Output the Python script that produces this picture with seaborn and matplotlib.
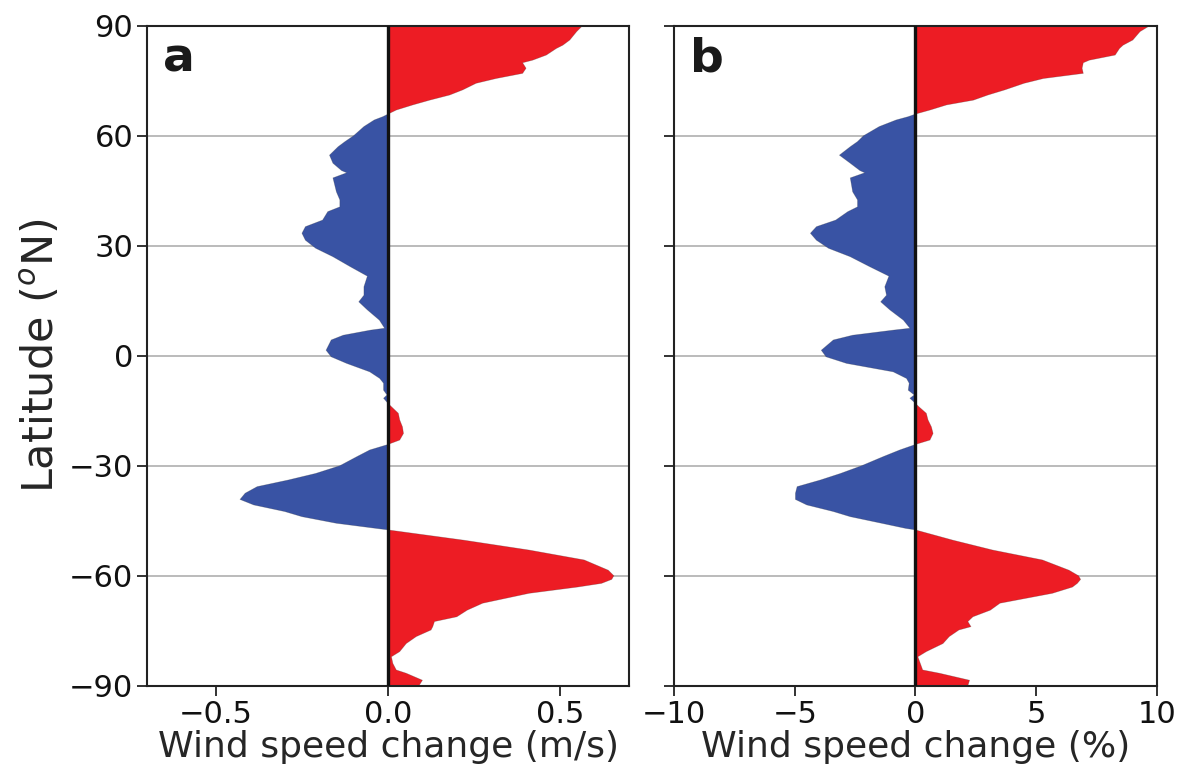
import numpy as np
import pandas as pd
import matplotlib
matplotlib.use("Agg")
import matplotlib.pyplot as plt
import seaborn as sns

# ---- data ----
latitude = [90, 88.4, 86.1, 84.7, 83.8, 82, 80.6, 79.9, 78.4, 77, 75.6, 74.3, 72.5, 71.1, 69.7,
            68.4, 67, 65.9,
            65.2, 64.3, 62.5, 60, 58.4, 57, 54.7, 52.5, 50.5, 49.9, 48.5, 44.7, 42.5, 40.6,
            39.3, 37, 35.2, 33.4, 31.5, 29.3, 27, 24.3, 21.7, 18.8, 16.5, 14.7, 12.5, 9.7,
            7.5, 7, 5.6, 4.3, 1.5, -0.3, -2.1, -4.4, -6.2, -7.5, -9.4, -10.7, -11.6, -13,
            -13.9, -15.7, -17.5, -19.4, -21.2, -23, -24.2, -25.7, -27.5, -30, -32.1, -33.9,
            -35.7, -37.5, -39.2, -40.7, -42.5, -43.9, -45.7, -47.1, -47.5, -50.3, -53, -55.7,
            -58.5, -60, -61, -62.1, -63.1, -64.8, -67.5, -69.4, -71.2, -72.5, -73.9, -74.8,
            -76.6, -78.5, -80.7, -82.1, -83.9, -85.7, -86.6, -88.5, -90]

change_ms = [0.565, 0.548, 0.528, 0.508, 0.489, 0.46, 0.42, 0.391, 0.401, 0.391, 0.314, 0.256,
             0.217, 0.179, 0.121, 0.072, 0.024, 0.0,
             -0.015, -0.04, -0.07, -0.10, -0.125, -0.145, -0.17, -0.16, -0.135,
             -0.12, -0.16, -0.15, -0.14, -0.14, -0.175, -0.19, -0.24, -0.25, -0.24, -0.21,
             -0.16, -0.11, -0.06, -0.07, -0.07, -0.085, -0.06, -0.025, -0.01, -0.05, -0.13,
             -0.165, -0.18, -0.165, -0.12, -0.053, -0.024, -0.013, -0.013, -0.003, -0.013, 0.0,
             0.01, 0.03, 0.034, 0.042, 0.045, 0.034, 0.0, -0.053, -0.09, -0.14, -0.21, -0.29,
             -0.38, -0.415, -0.43, -0.39, -0.30, -0.25, -0.15, -0.034, 0.0, 0.22, 0.41, 0.57,
             0.64, 0.656, 0.65, 0.62, 0.55, 0.41, 0.275, 0.23, 0.20, 0.135, 0.13, 0.125,
             0.082, 0.053, 0.034, 0.01, 0.014, 0.024, 0.053, 0.10, 0.09]

change_pct = [9.7, 9.3, 9.0, 8.6, 8.45, 8.27, 7.2, 6.95, 6.9, 6.95, 5.3, 4.5, 3.7, 3.0, 2.4,
              1.29, 0.6, 0.0,
              -0.3, -0.8, -1.5, -2.15, -2.4, -2.7, -3.15, -2.7, -2.3,
              -2.1, -2.7, -2.6, -2.4, -2.4, -2.8, -3.3, -4.1, -4.35, -4.1, -3.6,
              -2.7, -1.9, -1.1, -1.27, -1.2, -1.44, -1.06, -0.5, -0.23, -0.9, -2.6,
              -3.4, -3.9, -3.7, -2.85, -0.92, -0.37, -0.26, -0.3, -0.05, -0.23, 0.0,
              0.14, 0.45, 0.52, 0.66, 0.73, 0.6, 0.0, -0.65, -1.33, -2.23, -3.1, -3.94,
              -4.9, -4.97, -4.97, -4.5, -3.4, -2.7, -1.4, -0.4, 0.0, 1.55, 3.2, 5.26,
              6.36, 6.75, 6.84, 6.7, 6.5, 5.67, 3.5, 3.1, 2.38, 2.17, 2.3, 1.8,
              1.4, 1.14, 0.45, 0.1, 0.2, 0.3, 1.0, 2.24, 2.17]

panel_letters = ["a", "b"]
x_labels = ["Wind speed change (m/s)", "Wind speed change (%)"]
x_limits = [(-0.7, 0.7), (-10, 10)]
x_ticks = [[-0.5, 0.0, 0.5], [-10, -5, 0, 5, 10]]
x_ticklabels = [["\u22120.5", "0.0", "0.5"], ["\u221210", "\u22125", "0", "5", "10"]]
y_ticks = [-90, -60, -30, 0, 30, 60, 90]
y_ticklabels = ["\u221290", "\u221260", "\u221230", "0", "30", "60", "90"]

RED = "#ED1C24"
BLUE = "#3953A4"

sns.set_theme(style="ticks")
plt.rcParams["font.family"] = ["DejaVu Sans"]

fig = plt.figure(figsize=(11.83, 7.75), dpi=100)
ax_a = fig.add_axes([0.1243, 0.1152, 0.4074, 0.8516])
ax_b = fig.add_axes([0.5697, 0.1152, 0.4083, 0.8516])

df = pd.DataFrame({"lat": latitude, "ms": change_ms, "pct": change_pct})

for i, (ax, col) in enumerate(zip([ax_a, ax_b], ["ms", "pct"])):
    vals = df[col].to_numpy()
    lats = df["lat"].to_numpy()
    ax.fill_betweenx(lats, 0, vals, where=vals >= 0, interpolate=True,
                     color=RED, linewidth=0, zorder=2)
    ax.fill_betweenx(lats, 0, vals, where=vals <= 0, interpolate=True,
                     color=BLUE, linewidth=0, zorder=2)
    sns.lineplot(data=df, x=col, y="lat", orient="y", sort=False, ax=ax,
                 color="#333333", linewidth=0.5, alpha=0.3, zorder=3)
    ax.axvline(0, color="#111111", linewidth=2.4, zorder=4)
    for yt in y_ticks[1:-1]:
        ax.axhline(yt, color="#BBBBBB", linewidth=1.4, zorder=1)

    ax.set_xlim(*x_limits[i])
    ax.set_ylim(-90, 90)
    ax.set_xticks(x_ticks[i])
    ax.set_xticklabels(x_ticklabels[i], fontsize=22)
    ax.set_yticks(y_ticks)
    if i == 0:
        ax.set_yticklabels(y_ticklabels, fontsize=22)
        ax.set_ylabel(r"Latitude ($^o$N)", fontsize=31, labelpad=4)
    else:
        ax.set_yticklabels([])
        ax.set_ylabel("")
    ax.set_xlabel(x_labels[i], fontsize=26, labelpad=1)
    ax.tick_params(axis="both", direction="out", length=7, width=1.3, color="#222222",
                   labelcolor="#111111", pad=3)
    for sp in ax.spines.values():
        sp.set_visible(True)
        sp.set_color("#222222")
        sp.set_linewidth(1.5)
    ax.text(0.033, 0.93, panel_letters[i], transform=ax.transAxes, fontsize=34,
            fontweight="bold", color="#1a1a1a", ha="left", va="baseline", zorder=5)

fig.savefig("out.png", dpi=100)
